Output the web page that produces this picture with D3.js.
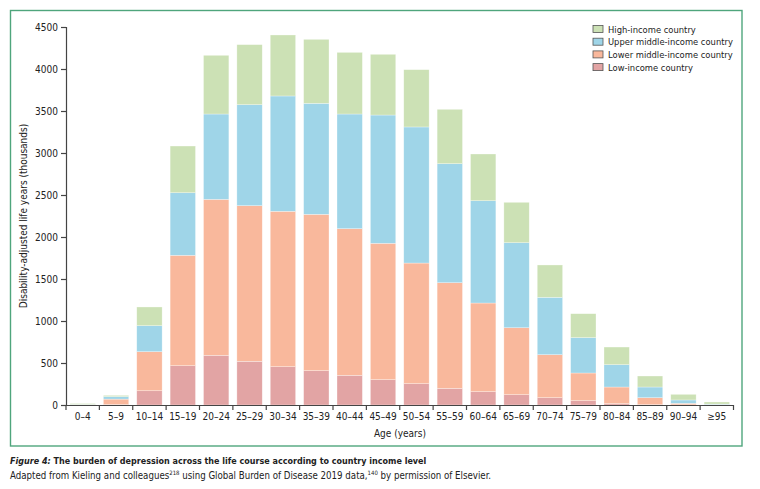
<!DOCTYPE html>
<html><head><meta charset="utf-8">
<script src="https://cdn.jsdelivr.net/npm/d3@7"></script>
<style>
body{margin:0;background:#fff;}
svg text{font-family:"Liberation Sans Narrow","DejaVu Sans Condensed","Open Sans",sans-serif;fill:#222;}
</style></head><body>
<svg id="c" width="760" height="489"></svg>
<script>
const ages = ["0–4","5–9","10–14","15–19","20–24","25–29","30–34","35–39","40–44","45–49","50–54","55–59","60–64","65–69","70–74","75–79","80–84","85–89","90–94","≥95"];
const lowIncome      = [1,5,170,468,591,520,456,409,353,302,254,198,159,123,87,52,16,4,2,0];
const lowerMiddle    = [3,65,465,1314,1857,1853,1850,1861,1746,1623,1436,1258,1055,797,512,329,198,83,18,3];
const upperMiddle    = [3,30,309,745,1016,1202,1373,1321,1365,1527,1620,1417,1218,1012,683,421,266,127,40,8];
const highIncome     = [10,15,223,556,699,715,726,762,734,723,682,647,556,481,385,285,210,131,67,25];
const yTicks = [0,500,1000,1500,2000,2500,3000,3500,4000,4500];
const seriesNames = ["Low-income country","Lower middle-income country","Upper middle-income country","High-income country"];
const seriesKeys = ["low","lm","um","hi"];
const colors = {low:"#e2a4a4", lm:"#f9b89c", um:"#9fd5e8", hi:"#cce1b5"};

const rows = ages.map((a,i)=>({age:a, low:lowIncome[i], lm:lowerMiddle[i], um:upperMiddle[i], hi:highIncome[i]}));
const svg = d3.select("#c");

// frame
svg.append("rect").attr("x",10.5).attr("y",10.5).attr("width",731.5).attr("height",435.5)
  .attr("fill","none").attr("stroke","#4fa57c").attr("stroke-width",1.4);

const x = d3.scaleBand().domain(ages).range([66,733.5]).paddingInner(0.24).paddingOuter(0.12);
const y = d3.scaleLinear().domain([0,4500]).range([405,27]);

const stack = d3.stack().keys(seriesKeys)(rows);
svg.append("g").selectAll("g").data(stack).join("g")
  .attr("fill",d=>colors[d.key])
  .selectAll("rect").data(d=>d).join("rect")
  .attr("x",d=>x(d.data.age)).attr("width",x.bandwidth())
  .attr("y",d=>y(d[1])).attr("height",d=>Math.max(0,y(d[0])-y(d[1])))
  .attr("stroke","rgba(255,255,255,0.5)").attr("stroke-width",0.6);

// y axis
const ya = svg.append("g").attr("transform","translate(66,0)")
  .call(d3.axisLeft(y).tickValues(yTicks).tickSize(5).tickPadding(3).tickFormat(d3.format("d")));
ya.select(".domain").attr("stroke","#444").attr("stroke-width",1.2);
ya.selectAll(".tick line").attr("stroke","#444").attr("stroke-width",1.2);
ya.selectAll("text").attr("font-size",10).attr("fill","#222");

// x axis
const xa = svg.append("g").attr("transform","translate(0,405)")
  .call(d3.axisBottom(x).tickSize(0).tickPadding(8));
xa.select(".domain").attr("stroke","#444").attr("stroke-width",1.2);
xa.selectAll("text").attr("font-size",10).attr("fill","#222");
const bounds = ages.map(a=>x(a)-x.step()*x.paddingInner()/2).concat([733.5]);
xa.selectAll(".btick").data(bounds).join("line").attr("class","btick")
  .attr("x1",d=>d).attr("x2",d=>d).attr("y1",0).attr("y2",5)
  .attr("stroke","#444").attr("stroke-width",1.2);

// axis titles
svg.append("text").attr("x",400).attr("y",437).attr("text-anchor","middle").attr("font-size",10).text("Age (years)");
svg.append("text").attr("transform","translate(27,216) rotate(-90)").attr("text-anchor","middle")
  .attr("font-size",10).text("Disability-adjusted life years (thousands)");

// helper: fit text into a width by font size
function fitText(sel, w){
  const n = sel.node(); const cur = n.getComputedTextLength();
  const fs = parseFloat(sel.attr("font-size"));
  if (cur > 0) sel.attr("font-size", fs * w / cur);
}

// legend
const legendOrder = [3,2,1,0];
const legendWidths = [88,125,125,85];
legendOrder.forEach((k,i)=>{
  const cy = 29 + i*12.7;
  svg.append("rect").attr("x",593).attr("y",cy-3.5).attr("width",10).attr("height",7)
    .attr("fill",colors[seriesKeys[k]]).attr("stroke","#555").attr("stroke-width",0.8);
  const t = svg.append("text").attr("x",608).attr("y",cy+3.5).attr("font-size",10).text(seriesNames[k]);
  fitText(t, legendWidths[i]);
  if (parseFloat(t.attr("font-size"))>10.5) t.attr("font-size",10.5);
});

// caption: pieces flowed left to right, scaled to target width
function flow(yb, parts, target){
  const base = 10;
  const els = parts.map(p=>{
    const t = svg.append("text").attr("y", yb + (p.sup? -4:0)).attr("font-size", base*(p.sup?0.62:1))
      .attr("font-weight", p.bold?"bold":"normal").attr("font-style", p.italic?"italic":"normal")
      .attr("xml:space","preserve").style("white-space","pre").text(p.text);
    return {t, p};
  });
  let total = 0; els.forEach(e=> total += e.t.node().getComputedTextLength());
  const s = target/total;
  let xx = 10;
  els.forEach(e=>{
    e.t.attr("font-size", base*s*(e.p.sup?0.62:1)).attr("x", xx);
    xx += e.t.node().getComputedTextLength();
  });
}
flow(464, [{text:"Figure 4: ", bold:true, italic:true},
           {text:"The burden of depression across the life course according to country income level", bold:true}], 417);
flow(479, [{text:"Adapted from Kieling and colleagues"},
           {text:"218", sup:true},
           {text:" using Global Burden of Disease 2019 data,"},
           {text:"140", sup:true},
           {text:" by permission of Elsevier."}], 482);
</script></body></html>
